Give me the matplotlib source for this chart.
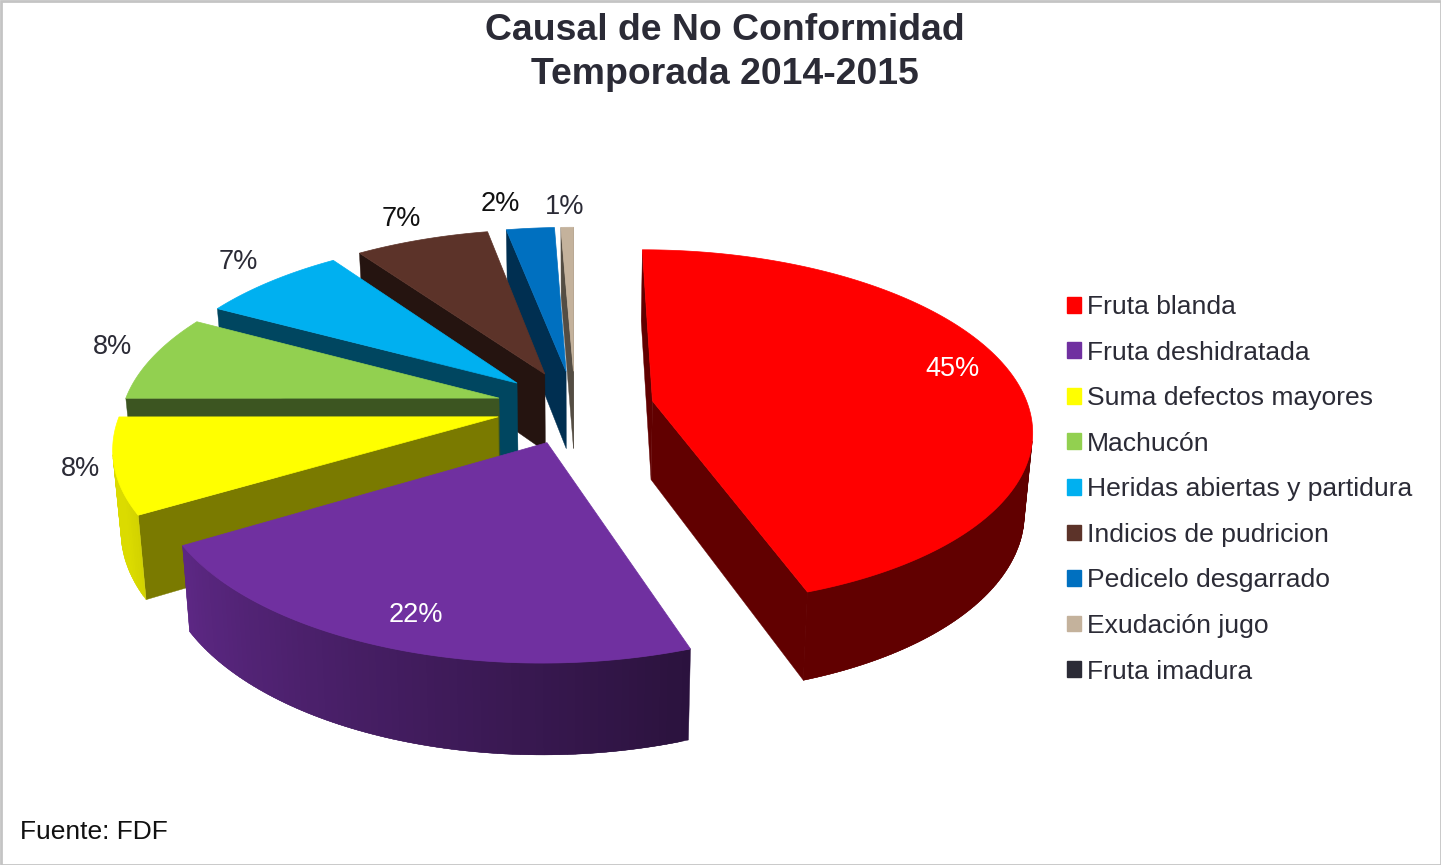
import numpy as np
import matplotlib
matplotlib.use('Agg')
import matplotlib.pyplot as plt
from matplotlib.patches import Polygon, Rectangle, Patch

plt.rcParams['font.family'] = ['Liberation Sans', 'DejaVu Sans']

causes = ['Fruta blanda', 'Fruta deshidratada', 'Suma defectos mayores', 'Machucón',
          'Heridas abiertas y partidura', 'Indicios de pudricion', 'Pedicelo desgarrado',
          'Exudación jugo', 'Fruta imadura']
percents = [44.7, 21.8, 8.49, 7.85, 7.36, 6.74, 2.42, 0.64, 0]
colors = ['#ff0000', '#7030a0', '#ffff00', '#92d050', '#00b0f0',
          '#5c3329', '#0070c0', '#c4b29c', '#2b2b36']
side_shade = [0.38, 0.42, 0.48, 0.41, 0.40, 0.40, 0.42, 0.43, 0.42]

# label centres in pixels
label_pos = [(952, 369), (416, 615), (80, 469), (113, 347), (238, 262),
             (401, 219), (500, 204), (565, 207)]
label_colors = ['white', 'white', '#2b2b36', '#2b2b36', '#2b2b36', '#111111', '#111111', '#2b2b36']

TEXT = '#2b2b36'
VX, VY = 575, 407      # view centre
A, B, K = 376, 175.5, 0.15
EXPLODE = 0.21


def project(X, Y):
    s = 1 / (1 - K * Y)
    return VX + A * X * s, VY + B * Y * s


def drop(p):
    # the same point on the underside of the pie
    return VX + (p[0] - VX) * 0.982, p[1] + 79 + 0.05 * (p[1] - VY)


def is_front(quad):
    x, y = np.array(quad).T
    return np.sum(x * np.roll(y, -1) - np.roll(x, -1) * y) < 0


def shaded(color, factor):
    return tuple(c * factor for c in matplotlib.colors.to_rgb(color))


def wall_shade(theta):
    return np.interp(theta, [160, 245], [0.38, 0.86])


def draw_side(ax, a, b, color, b_far=None):
    quad = [a, b, drop(b), drop(a)]
    if is_front(quad):
        # b_far makes a strip overlap the next one, so no seam shows through
        if b_far is not None:
            quad = [a, b_far, drop(b_far), drop(a)]
        ax.add_patch(Polygon(quad, closed=True, fc=color, ec=color, lw=0.3))


def draw_slice(ax, start, end, color, side):
    mid = np.radians((start + end) / 2)
    ox, oy = EXPLODE * np.sin(mid), -EXPLODE * np.cos(mid)
    thetas = np.linspace(start, end, max(int(end - start) + 2, 3))
    rad = np.radians(thetas)
    rim = [project(ox + np.sin(t), oy - np.cos(t)) for t in rad]
    apex = project(ox, oy)

    draw_side(ax, apex, rim[0], shaded(color, side))
    draw_side(ax, rim[-1], apex, shaded(color, side))
    for i in range(len(rim) - 1):
        far = rim[min(i + 2, len(rim) - 1)]
        draw_side(ax, rim[i], rim[i + 1], shaded(color, wall_shade(thetas[i])), far)
    ax.add_patch(Polygon([apex] + rim, closed=True, fc=color, ec=color, lw=0.5))


fig = plt.figure(figsize=(14.41, 8.65), dpi=100)
ax = fig.add_axes([0, 0, 1, 1])
ax.set_xlim(0, 1441)
ax.set_ylim(865, 0)
ax.axis('off')

ax.add_patch(Rectangle((0.5, 0.5), 1440, 864, fc='white', ec='#c4c4c4', lw=2))

edges = np.cumsum([0] + percents) * 3.6
for i in range(len(percents) - 1, -1, -1):
    if percents[i] > 0:
        draw_slice(ax, edges[i], edges[i + 1], colors[i], side_shade[i])

for v, pos, c in zip(percents, label_pos, label_colors):
    ax.text(pos[0], pos[1], f'{v:.0f}%', color=c, fontsize=19.5, ha='center', va='center')

ax.text(725, 30, 'Causal de No Conformidad', color=TEXT, fontsize=26.9, fontweight='bold',
        ha='center', va='center')
ax.text(725, 74, 'Temporada 2014-2015', color=TEXT, fontsize=26.9, fontweight='bold',
        ha='center', va='center')
ax.text(20, 832, 'Fuente: FDF', color='#111111', fontsize=19, ha='left', va='center')

handles = [Patch(fc=c, ec=c, label=name) for c, name in zip(colors, causes)]
ax.legend(handles=handles, loc='upper left', bbox_to_anchor=(1067 / 1441, 1 - 295 / 865),
          frameon=False, fontsize=19.05, labelcolor=TEXT, borderpad=0, borderaxespad=0,
          handlelength=0.54, handleheight=0.54, handletextpad=0.23, labelspacing=0.815)

plt.savefig('out.png', dpi=100)
